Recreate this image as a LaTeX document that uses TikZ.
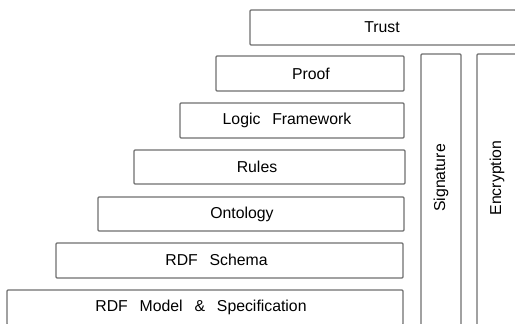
\documentclass[tikz,border=0pt]{standalone}
\usepackage{fontspec}
\setmainfont{Liberation Sans}
\newcommand{\wsp}{\hspace{0.75em}}
\begin{document}
\begin{tikzpicture}[x=1pt,y=-1pt,
  layer/.style={draw=black!57, line width=1.1pt, rounded corners=1pt, inner sep=0pt},
  lbl/.style={font=\fontsize{15.8}{19}\selectfont, text=black, inner sep=0pt}]
\useasboundingbox (0,0) rectangle (515,324);
\clip (0,0) rectangle (515,324);
\node[layer, minimum width=266pt, minimum height=35pt] (trust) at (383,27.5) {};
\node[layer, minimum width=188pt, minimum height=35pt] (proof) at (310,73.5) {};
\node[layer, minimum width=224pt, minimum height=35pt] (logic) at (292,120.5) {};
\node[layer, minimum width=271pt, minimum height=34pt] (rules) at (269.5,167) {};
\node[layer, minimum width=306pt, minimum height=34pt] (onto) at (251,214) {};
\node[layer, minimum width=347pt, minimum height=35pt] (schema) at (229.5,260.5) {};
\node[layer, minimum width=396pt, minimum height=35pt] (model) at (205,307.5) {};
\node[layer, minimum width=40pt, minimum height=300pt] (sig) at (441,204) {};
\node[layer, minimum width=40pt, minimum height=300pt] (enc) at (497,204) {};
\node[lbl] (trustt) at (382,27) {Trust};
\node[lbl] (prooft) at (311,73.5) {Proof};
\node[lbl] (logict) at (287,120.5) {Logic\wsp Framework};
\node[lbl] (rulest) at (257,166.5) {Rules};
\node[lbl] (ontot) at (242,214) {Ontology};
\node[lbl] (schemat) at (216.5,260) {RDF\wsp Schema};
\node[lbl] (modelt) at (201,307) {RDF\wsp Model\wsp \&\wsp Specification};
\node[lbl, rotate=90] (sigt) at (441,178) {Signature};
\node[lbl, rotate=90] (enct) at (497,178) {Encryption};
\end{tikzpicture}
\end{document}
